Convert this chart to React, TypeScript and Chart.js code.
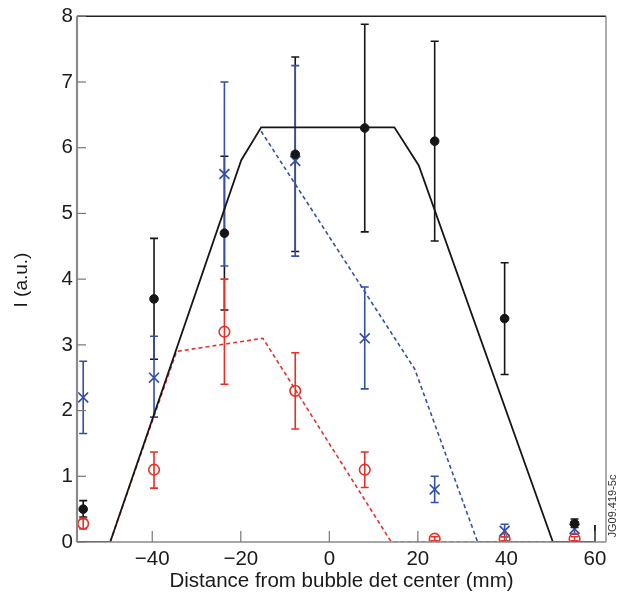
import React, { useEffect, useRef } from "react";
import { Chart, registerables } from "chart.js";
Chart.register(...registerables);

// Measurement positions (mm)
const xPos = [-55.6, -39.6, -23.7, -7.7, 8.0, 23.8, 39.6, 55.4];
// Black (filled circles)
const blackY = [0.5, 3.7, 4.7, 5.9, 6.3, 6.1, 3.4, 0.28];
const blackLo = [0.38, 2.78, 3.53, 4.42, 4.72, 4.58, 2.55, 0.22];
const blackHi = [0.63, 4.62, 5.87, 7.38, 7.88, 7.62, 4.25, 0.35];
// Blue (crosses)
const blueY = [2.2, 2.5, 5.6, 5.8, 3.1, 0.8, 0.17, 0.2];
const blueLo = [1.65, 1.9, 4.2, 4.35, 2.33, 0.6, 0.08, 0.12];
const blueHi = [2.75, 3.13, 7.0, 7.25, 3.88, 1.0, 0.27, 0.3];
// Red (open circles)
const redY = [0.28, 1.1, 3.2, 2.3, 1.1, 0.05, 0.05, 0.05];
const redLo = [0.2, 0.82, 2.4, 1.72, 0.83, 0.02, 0.02, 0.02];
const redHi = [0.35, 1.37, 4.0, 2.88, 1.37, 0.08, 0.08, 0.08];

// Model curves
const blackModelX = [-57, -49.5, -19.9, -15.4, 14.7, 20.2, 50.5, 60, 60];
const blackModelY = [0, 0, 5.81, 6.31, 6.31, 5.73, 0, 0, 0.26];
const blueModelX = [-15.4, 19.3, 33.5, 50.5];
const blueModelY = [6.25, 2.63, 0, 0];
const redModelX = [-49.5, -34.5, -15, 14, 50.5];
const redModelY = [0, 2.9, 3.1, 0, 0];

const xTicks = [-40, -20, 0, 20, 40, 60];
const yTicks = [0, 1, 2, 3, 4, 5, 6, 7, 8];

const BLACK = "#161616";
const BLUE = "#3450a6";
const RED = "#e8302a";
const FONT = "'Liberation Sans', Arial, Helvetica, sans-serif";

const pts = (xs: number[], ys: number[]) => xs.map((x, i) => ({ x, y: ys[i] }));

const errorSets = [
  { lo: blackLo, hi: blackHi, color: BLACK },
  { lo: blueLo, hi: blueHi, color: BLUE },
  { lo: redLo, hi: redHi, color: RED },
];

const errorBarPlugin = {
  id: "errorBars",
  beforeDatasetsDraw(chart: any) {
    const { ctx, scales } = chart;
    const xs = scales.x, ys = scales.y;
    ctx.save();
    ctx.lineWidth = 1.6;
    errorSets.forEach((s) => {
      ctx.strokeStyle = s.color;
      xPos.forEach((x, i) => {
        const px = xs.getPixelForValue(x);
        const p1 = ys.getPixelForValue(s.lo[i]);
        const p2 = ys.getPixelForValue(s.hi[i]);
        ctx.beginPath();
        ctx.moveTo(px, p1);
        ctx.lineTo(px, p2);
        ctx.moveTo(px - 4, p1);
        ctx.lineTo(px + 4, p1);
        ctx.moveTo(px - 4, p2);
        ctx.lineTo(px + 4, p2);
        ctx.stroke();
      });
    });
    ctx.restore();
  },
};

const framePlugin = {
  id: "frame",
  afterDraw(chart: any) {
    const { ctx, chartArea: a, scales } = chart;
    ctx.save();
    // top border
    ctx.strokeStyle = "#222";
    ctx.lineWidth = 1.5;
    ctx.beginPath();
    ctx.moveTo(a.left, a.top);
    ctx.lineTo(a.right, a.top);
    ctx.stroke();
    // right border
    ctx.strokeStyle = "#777";
    ctx.lineWidth = 1.2;
    ctx.beginPath();
    ctx.moveTo(a.right, a.top);
    ctx.lineTo(a.right, a.bottom);
    ctx.stroke();
    // left axis
    ctx.strokeStyle = "#8a8a8a";
    ctx.lineWidth = 2.2;
    ctx.beginPath();
    ctx.moveTo(a.left, a.top);
    ctx.lineTo(a.left, a.bottom);
    ctx.stroke();
    // bottom axis
    ctx.strokeStyle = "#8a8a8a";
    ctx.lineWidth = 1.6;
    ctx.beginPath();
    ctx.moveTo(a.left, a.bottom);
    ctx.lineTo(a.right, a.bottom);
    ctx.stroke();
    // inward ticks
    ctx.strokeStyle = "#777";
    ctx.lineWidth = 1.2;
    yTicks.forEach((v) => {
      const py = scales.y.getPixelForValue(v);
      ctx.beginPath();
      ctx.moveTo(a.left, py);
      ctx.lineTo(a.left + 9, py);
      ctx.stroke();
    });
    xTicks.forEach((v) => {
      const px = scales.x.getPixelForValue(v);
      ctx.beginPath();
      ctx.moveTo(px, a.bottom);
      ctx.lineTo(px, a.bottom - 11);
      ctx.stroke();
    });
    // titles
    ctx.fillStyle = "#1a1a1a";
    ctx.font = `20.5px ${FONT}`;
    ctx.textAlign = "center";
    ctx.textBaseline = "middle";
    ctx.fillText("Distance from bubble det center (mm)", (a.left + a.right) / 2, 581);
    ctx.save();
    ctx.translate(22, 280);
    ctx.rotate(-Math.PI / 2);
    ctx.font = `19px ${FONT}`;
    ctx.fillText("I (a.u.)", 0, 0);
    ctx.restore();
    ctx.save();
    ctx.translate(613, 506);
    ctx.rotate(-Math.PI / 2);
    ctx.font = `11px ${FONT}`;
    ctx.fillStyle = "#333";
    ctx.fillText("JG09.419-5c", 0, 0);
    ctx.restore();
    ctx.restore();
  },
};

export default function App() {
  const ref = useRef<HTMLCanvasElement>(null);
  useEffect(() => {
    document.body.style.margin = "0";
    const chart = new Chart(ref.current!, {
      type: "scatter",
      data: {
        datasets: [
          {
            label: "black data",
            data: pts(xPos, blackY),
            pointStyle: "circle",
            pointRadius: 4.3,
            backgroundColor: BLACK,
            borderColor: BLACK,
            borderWidth: 1,
            order: 0,
          },
          {
            label: "blue data",
            data: pts(xPos, blueY),
            pointStyle: "crossRot",
            pointRadius: 7,
            borderColor: BLUE,
            borderWidth: 1.7,
            order: 1,
          },
          {
            label: "red data",
            data: pts(xPos, redY),
            pointStyle: "circle",
            pointRadius: 5.3,
            backgroundColor: "rgba(0,0,0,0)",
            borderColor: RED,
            borderWidth: 1.6,
            order: 2,
          },
          {
            label: "black model",
            data: pts(blackModelX, blackModelY),
            showLine: true,
            pointRadius: 0,
            borderColor: BLACK,
            borderWidth: 1.8,
            order: 3,
          },
          {
            label: "blue model",
            data: pts(blueModelX, blueModelY),
            showLine: true,
            pointRadius: 0,
            borderColor: BLUE,
            borderWidth: 1.6,
            borderDash: [4, 3],
            order: 4,
          },
          {
            label: "red model",
            data: pts(redModelX, redModelY),
            showLine: true,
            pointRadius: 0,
            borderColor: RED,
            borderWidth: 1.6,
            borderDash: [4, 3],
            order: 5,
          },
        ],
      },
      options: {
        animation: false,
        responsive: true,
        maintainAspectRatio: false,
        layout: { padding: { left: 0, top: 13, right: 21, bottom: 0 } },
        plugins: { legend: { display: false }, tooltip: { enabled: false } },
        scales: {
          x: {
            type: "linear",
            min: -57,
            max: 62.5,
            afterBuildTicks: (s: any) => {
              s.ticks = xTicks.map((v) => ({ value: v }));
            },
            afterFit: (s: any) => {
              s.height = 55;
            },
            grid: { display: false, drawTicks: false },
            border: { display: false },
            ticks: {
              padding: 5,
              color: "#1a1a1a",
              font: { family: FONT, size: 20.5 },
              maxRotation: 0,
              callback: (v: any) => (Number(v) < 0 ? "\u2212" + Math.abs(Number(v)) : String(v)),
            },
          },
          y: {
            type: "linear",
            min: 0,
            max: 8,
            afterBuildTicks: (s: any) => {
              s.ticks = yTicks.map((v) => ({ value: v }));
            },
            afterFit: (s: any) => {
              s.width = 77;
            },
            grid: { display: false, drawTicks: false },
            border: { display: false },
            ticks: {
              padding: 4,
              color: "#1a1a1a",
              font: { family: FONT, size: 20.5 },
            },
          },
        },
      },
      plugins: [errorBarPlugin, framePlugin],
    } as any);
    return () => chart.destroy();
  }, []);
  return (
    <div style={{ width: 627, height: 597, position: "relative" }}>
      <canvas ref={ref} />
    </div>
  );
}
